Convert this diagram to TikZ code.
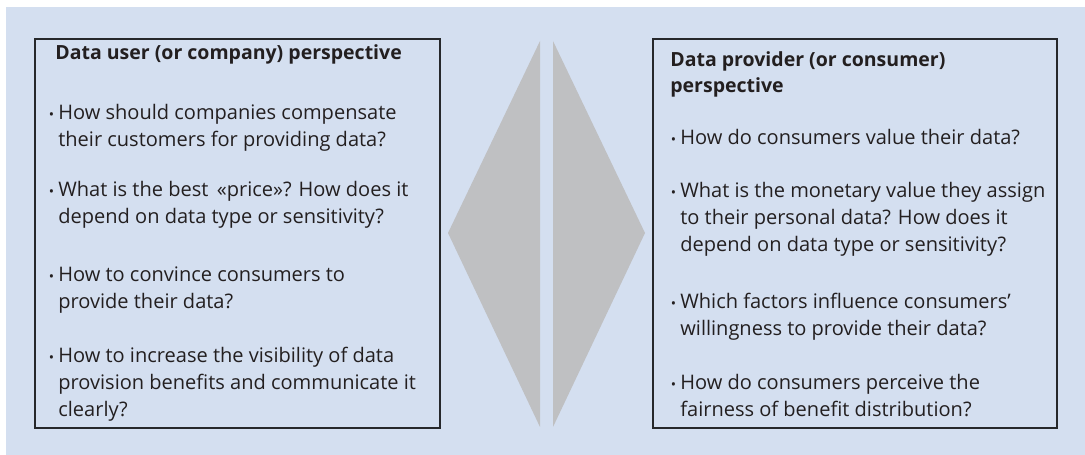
\documentclass[tikz,border=0pt]{standalone}
\usepackage{fontspec}
\setmainfont{Open Sans}
\usepackage{tikz}
\usetikzlibrary{positioning}
\definecolor{backdrop}{HTML}{D4DFF0}
\definecolor{frame}{HTML}{26282B}
\definecolor{wedge}{HTML}{BFC0C2}
\definecolor{ink}{HTML}{231F20}

\tikzset{
  panel/.style={draw=frame, line width=1.4pt},
  head/.style={anchor=base west, align=left, inner sep=0pt, text=ink,
    font=\fontsize{11.1}{14.8}\selectfont\bfseries},
  query/.style={anchor=base west, align=left, inner sep=0pt, text=ink,
    font=\fontsize{11.4}{15.4}\selectfont}
}
% small bullet hung in front of each question
\newcommand{\itm}{\llap{{\fontsize{8}{8}\selectfont\textbullet}\hspace{2.4pt}}}

\begin{document}
\begin{tikzpicture}
\useasboundingbox (0,0) rectangle (21.7,9.1);
% ---------- background
\fill[backdrop] (0.12,0) rectangle (21.7,8.96);

% ---------- the two panels
\draw[panel] (0.70,0.54) rectangle (8.80,8.32);
\draw[panel] (13.06,0.54) rectangle (21.14,8.32);

% ---------- the split diamond
\fill[wedge] (10.80,8.28) -- (10.80,0.56) -- (8.96,4.44) -- cycle;
\fill[wedge] (11.06,8.28) -- (11.06,0.56) -- (12.90,4.44) -- cycle;

% ---------- left panel: data user (anchors sit on the last line)
\node[head] (userhead) at (1.10,7.90) {Data user (or company) perspective};
\node[query] (user1) at (1.16,6.16) {\itm How should companies compensate\\their customers for providing data?};
\node[query] (user2) at (1.16,4.62) {\itm What is the best \,«price»? How does it\\depend on data type or sensitivity?};
\node[query] (user3) at (1.16,2.92) {\itm How to convince consumers to\\provide their data?};
\node[query] (user4) at (1.16,0.76) {\itm How to increase the visibility of data\\provision benefits and communicate it\\clearly?};

% ---------- right panel: data provider
\node[head] (provhead) at (13.40,7.24) {Data provider (or consumer)\\perspective};
\node[query] (prov1) at (13.60,6.20) {\itm How do consumers value their data?};
\node[query] (prov2) at (13.60,4.06) {\itm What is the monetary value they assign\\to their personal data? How does it\\depend on data type or sensitivity?};
\node[query] (prov3) at (13.60,2.38) {\itm Which factors influence consumers’\\willingness to provide their data?};
\node[query] (prov4) at (13.60,0.76) {\itm How do consumers perceive the\\fairness of benefit distribution?};
\end{tikzpicture}
\end{document}
